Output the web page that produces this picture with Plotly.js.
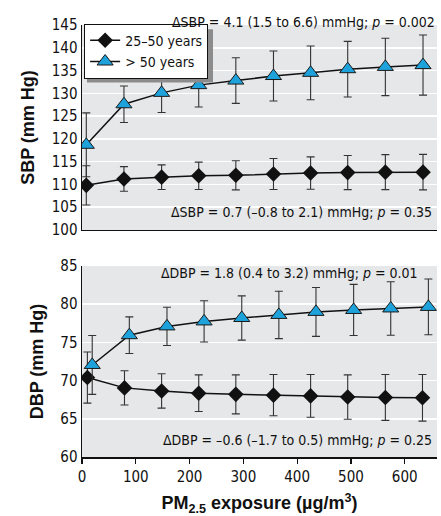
<!DOCTYPE html>
<html><head><meta charset="utf-8">
<script src="https://cdn.plot.ly/plotly-3.0.1.min.js"></script>
<style>html,body{margin:0;padding:0;background:#fff}#chart{width:441px;height:516px}</style>
</head><body><div id="chart"></div>
<script>
// ---- data ----
const seriesNames = ["25\u201350 years", "> 50 years"];
// SBP panel
const sbpX = [8, 78, 148, 217, 286, 356, 425, 494, 564, 634];
const sbpYoung = [109.8, 111.2, 111.6, 111.9, 112.0, 112.3, 112.5, 112.6, 112.7, 112.7];
const sbpYoungErr = [4.3, 2.7, 2.7, 3.0, 3.2, 3.4, 3.55, 3.75, 3.85, 3.9];
const sbpOld = [118.7, 127.6, 130.1, 131.8, 132.8, 133.8, 134.5, 135.3, 135.8, 136.2];
const sbpOldErr = [7.0, 4.0, 4.3, 4.8, 5.0, 5.5, 5.9, 6.1, 6.3, 6.6];
// DBP panel
const dbpXYoung = [10, 79, 148, 217, 286, 356, 425, 494, 564, 633];
const dbpXOld = [19, 88, 158, 227, 297, 366, 435, 505, 574, 644];
const dbpYoung = [70.4, 69.05, 68.65, 68.35, 68.2, 68.1, 68.0, 67.85, 67.8, 67.75];
const dbpYoungErr = [3.35, 2.25, 2.25, 2.4, 2.55, 2.7, 2.8, 2.9, 3.0, 3.05];
const dbpOld = [72.05, 75.95, 77.1, 77.75, 78.2, 78.6, 79.0, 79.25, 79.45, 79.65];
const dbpOldErr = [3.85, 2.4, 2.5, 2.7, 2.9, 3.1, 3.2, 3.35, 3.5, 3.65];
const xTicks = [0, 100, 200, 300, 400, 500, 600];
const sbpTicks = [100, 105, 110, 115, 120, 125, 130, 135, 140, 145];
const dbpTicks = [60, 65, 70, 75, 80, 85];
const notes = [
  "\u0394SBP = 4.1 (1.5 to 6.6) mmHg; <i>p</i> = 0.002",
  "\u0394SBP = 0.7 (\u20130.8 to 2.1) mmHg; <i>p</i> = 0.35",
  "\u0394DBP = 1.8 (0.4 to 3.2) mmHg; <i>p</i> = 0.01",
  "\u0394DBP = \u20130.6 (\u20131.7 to 0.5) mmHg; <i>p</i> = 0.25"
];

const FONT = "'Liberation Sans Narrow', 'DejaVu Sans Condensed', 'Arial Narrow', sans-serif";
const BLUE = "#1ea2dc";

function tr(x, y, err, isOld, xa, ya, show) {
  return {
    x: x, y: y, xaxis: xa, yaxis: ya, type: "scatter", mode: "lines+markers",
    name: isOld ? seriesNames[1] : seriesNames[0], showlegend: show,
    line: {color: "#111", width: 1.5},
    marker: isOld ? {symbol: "triangle-up", size: 14, color: BLUE, line: {color: "#1a1a1a", width: 1}}
                  : {symbol: "diamond", size: 12, color: "#111", line: {color: "#111", width: 0}},
    error_y: {type: "data", array: err, visible: true, color: "#333", thickness: 1.1, width: 4}
  };
}

const data = [
  tr(sbpX, sbpYoung, sbpYoungErr, false, "x", "y", true),
  tr(sbpX, sbpOld, sbpOldErr, true, "x", "y", true),
  tr(dbpXYoung, dbpYoung, dbpYoungErr, false, "x2", "y2", false),
  tr(dbpXOld, dbpOld, dbpOldErr, true, "x2", "y2", false)
];

const axFont = {family: FONT, size: 15, color: "#111"};
const titleFont = {family: "'Liberation Sans', Arial, sans-serif", size: 18, color: "#111", weight: "bold"};
const noteFont = {family: FONT, size: 14, color: "#111"};

const layout = {
  width: 441, height: 516,
  margin: {l: 82, r: 4, t: 25, b: 59},
  paper_bgcolor: "#fff", plot_bgcolor: "#e6e7e8",
  font: {family: FONT, size: 14, color: "#111"},
  showlegend: true,
  legend: {x: 0.006, y: 1.003, xanchor: "left", yanchor: "top", bgcolor: "#fff",
           bordercolor: "#111", borderwidth: 1, font: {family: FONT, size: 14, color: "#111"},
           tracegroupgap: 0, itemwidth: 30},
  xaxis: {domain: [0, 1], range: [0, 660], anchor: "y", showticklabels: false, ticks: "",
          showgrid: false, zeroline: false, showline: true, linecolor: "#111", linewidth: 1.5},
  yaxis: {domain: [0.5255, 1], range: [100, 145], tickvals: sbpTicks, anchor: "x",
          showgrid: true, gridcolor: "#fff", gridwidth: 1.5, zeroline: false,
          showline: true, linecolor: "#111", linewidth: 1.5, ticks: "", tickfont: axFont,
          title: {text: "SBP (mm Hg)", font: titleFont, standoff: 12}},
  xaxis2: {domain: [0, 1], range: [0, 660], anchor: "y2", tickvals: xTicks,
           ticks: "outside", ticklen: 5, tickcolor: "#111", tickwidth: 1.2, tickfont: axFont,
           showgrid: false, zeroline: false, showline: true, linecolor: "#111", linewidth: 1.5,
           title: {text: "PM<sub>2.5</sub> exposure (\u00b5g/m<sup>3</sup>)", font: titleFont, standoff: 16}},
  yaxis2: {domain: [0, 0.442], range: [60, 85], tickvals: dbpTicks, anchor: "x2",
           showgrid: true, gridcolor: "#fff", gridwidth: 1.5, zeroline: false,
           showline: true, linecolor: "#111", linewidth: 1.5, ticks: "", tickfont: axFont,
           title: {text: "DBP (mm Hg)", font: titleFont, standoff: 12}},
  annotations: [
    {text: notes[0], xref: "paper", yref: "paper", x: 1.0, y: 1.007, xanchor: "right", yanchor: "middle", showarrow: false, font: noteFont},
    {text: notes[1], xref: "paper", yref: "paper", x: 0.9915, y: 0.567, xanchor: "right", yanchor: "middle", showarrow: false, font: noteFont},
    {text: notes[2], xref: "paper", yref: "paper", x: 0.952, y: 0.4266, xanchor: "right", yanchor: "middle", showarrow: false, font: noteFont},
    {text: notes[3], xref: "paper", yref: "paper", x: 0.9915, y: 0.039, xanchor: "right", yanchor: "middle", showarrow: false, font: noteFont}
  ],
  shapes: [
    {type: "rect", xref: "paper", yref: "paper", x0: 0.014, x1: 0.369, y0: 0.867, y1: 0.99,
     fillcolor: "#8c8c8c", line: {width: 0}, layer: "above"}
  ]
};

Plotly.newPlot("chart", data, layout, {displayModeBar: false, staticPlot: true});
</script></body></html>
